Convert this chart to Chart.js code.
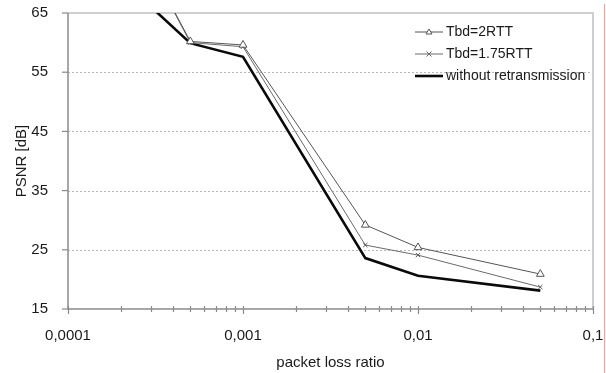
<!DOCTYPE html>
<html>
<head>
<meta charset="utf-8">
<script src="https://cdn.jsdelivr.net/npm/chart.js@4/dist/chart.umd.min.js"></script>
<style>
html,body{margin:0;padding:0;background:#fff;}
#wrap{width:606px;height:373px;position:relative;}
</style>
</head>
<body>
<div id="wrap"><canvas id="c" width="606" height="373"></canvas></div>
<script>
// ---- data ----
const lossRatio = [0.0001, 0.0005, 0.001, 0.005, 0.01, 0.05];
const tbd2RTT   = [99, 60.2, 59.6, 29.2, 25.4, 20.9];
const tbd175RTT = [99, 60.0, 59.3, 25.8, 24.1, 18.7];
const withoutRetx = [79, 59.9, 57.6, 23.6, 20.6, 18.1];
const seriesNames = ['Tbd=2RTT', 'Tbd=1.75RTT', 'without retransmission'];
const xTickValues = [0.0001, 0.001, 0.01, 0.1];
const xTickLabels = ['0,0001', '0,001', '0,01', '0,1'];
const yTicks = [15, 25, 35, 45, 55, 65];
const xTitle = 'packet loss ratio';
const yTitle = 'PSNR [dB]';

const FONT = '"Liberation Sans", Arial, sans-serif';
const toPts = ys => lossRatio.map((x, i) => ({x: x, y: ys[i]}));

// minor + major tick positions (axis decoration)
const allXTicks = [];
for (let d = 0; d < xTickValues.length - 1; d++) {
  for (let m = 1; m <= 9; m++) allXTicks.push(+(xTickValues[d] * m).toPrecision(6));
}
allXTicks.push(xTickValues[xTickValues.length - 1]);

const decor = {
  id: 'decor',
  beforeDatasetsDraw(chart) {
    const {ctx, chartArea: a, scales: {x, y}} = chart;
    ctx.save();
    // dotted grid
    ctx.strokeStyle = '#b8b8b8';
    ctx.lineWidth = 1;
    ctx.setLineDash([2, 2]);
    yTicks.forEach(v => {
      if (v === yTicks[0] || v === yTicks[yTicks.length - 1]) return;
      const py = Math.round(y.getPixelForValue(v)) + 0.5;
      ctx.beginPath(); ctx.moveTo(a.left, py); ctx.lineTo(a.right, py); ctx.stroke();
    });
    ctx.setLineDash([]);
    // top & right border
    ctx.strokeStyle = '#cfcfcf';
    ctx.lineWidth = 2;
    ctx.beginPath();
    ctx.moveTo(a.left, a.top); ctx.lineTo(a.right, a.top); ctx.lineTo(a.right, a.bottom);
    ctx.stroke();
    // axes
    ctx.strokeStyle = '#8a8a8a';
    ctx.lineWidth = 1.5;
    ctx.beginPath();
    ctx.moveTo(a.left, a.top); ctx.lineTo(a.left, a.bottom); ctx.lineTo(a.right, a.bottom);
    ctx.stroke();
    // y tick marks
    ctx.lineWidth = 1.2;
    yTicks.forEach(v => {
      const py = y.getPixelForValue(v);
      ctx.beginPath(); ctx.moveTo(a.left - 6, py); ctx.lineTo(a.left, py); ctx.stroke();
    });
    // x tick marks
    allXTicks.forEach(v => {
      const px = Math.round(x.getPixelForValue(v)) + 0.5;
      const major = xTickValues.some(t => Math.abs(t - v) / t < 1e-6);
      ctx.beginPath();
      ctx.moveTo(px, a.bottom - 3);
      ctx.lineTo(px, a.bottom + (major ? 5 : 3));
      ctx.stroke();
    });
    ctx.restore();
  },
  afterDraw(chart) {
    const {ctx} = chart;
    ctx.save();
    // legend
    const rows = [32, 54, 76];
    const x0 = 415, x1 = 443;
    chart.data.datasets.forEach((ds, i) => {
      const ry = rows[i];
      ctx.strokeStyle = ds.borderColor;
      ctx.lineWidth = ds.borderWidth;
      ctx.beginPath(); ctx.moveTo(x0, ry); ctx.lineTo(x1, ry); ctx.stroke();
      const cx = (x0 + x1) / 2;
      if (ds.pointStyle === 'triangle') {
        ctx.lineWidth = 1;
        ctx.fillStyle = '#fff';
        ctx.beginPath();
        ctx.moveTo(cx, ry - 3); ctx.lineTo(cx + 3, ry + 2); ctx.lineTo(cx - 3, ry + 2); ctx.closePath();
        ctx.fill(); ctx.stroke();
      } else if (ds.pointStyle === 'crossRot') {
        ctx.lineWidth = 1;
        ctx.beginPath();
        ctx.moveTo(cx - 2.5, ry - 2.5); ctx.lineTo(cx + 2.5, ry + 2.5);
        ctx.moveTo(cx + 2.5, ry - 2.5); ctx.lineTo(cx - 2.5, ry + 2.5);
        ctx.stroke();
      }
      ctx.fillStyle = '#1a1a1a';
      ctx.font = '14px ' + FONT;
      ctx.textBaseline = 'middle';
      ctx.textAlign = 'left';
      ctx.fillText(ds.label, x1 + 3, ry);
    });
    // red page edge line
    ctx.strokeStyle = '#f3a0a0';
    ctx.lineWidth = 1;
    ctx.beginPath(); ctx.moveTo(604.5, 4); ctx.lineTo(604.5, 373); ctx.stroke();
    ctx.restore();
  }
};

new Chart(document.getElementById('c'), {
  type: 'line',
  data: {
    datasets: [
      {label: seriesNames[0], data: toPts(tbd2RTT), borderColor: '#555', borderWidth: 1,
       pointStyle: 'triangle', pointRadius: 4.5, pointBorderColor: '#555', pointBackgroundColor: '#fff', pointBorderWidth: 1},
      {label: seriesNames[1], data: toPts(tbd175RTT), borderColor: '#6a6a6a', borderWidth: 1,
       pointStyle: 'crossRot', pointRadius: 3, pointBorderColor: '#555', pointBorderWidth: 1},
      {label: seriesNames[2], data: toPts(withoutRetx), borderColor: '#0a0a0a', borderWidth: 2.6,
       pointRadius: 0}
    ]
  },
  options: {
    responsive: false,
    animation: false,
    events: [],
    layout: {padding: {top: 13, right: 13, left: 0, bottom: 0}},
    plugins: {legend: {display: false}, tooltip: {enabled: false}},
    elements: {line: {tension: 0}},
    scales: {
      x: {
        type: 'logarithmic',
        min: xTickValues[0], max: xTickValues[xTickValues.length - 1],
        afterBuildTicks: s => { s.ticks = xTickValues.map(v => ({value: v, major: true})); },
        afterFit: s => { s.height = 64; s.paddingLeft = 0; s.paddingRight = 0; },
        grid: {display: false},
        border: {display: false},
        ticks: {
          autoSkip: false, maxRotation: 0, padding: 10,
          color: '#1a1a1a', font: {family: FONT, size: 15},
          callback: (v) => { const i = xTickValues.findIndex(t => Math.abs(t - v) / t < 1e-6); return i >= 0 ? xTickLabels[i] : ''; }
        },
        title: {display: true, text: xTitle, color: '#1a1a1a', font: {family: FONT, size: 15}, padding: {top: 0, bottom: 1}}
      },
      y: {
        min: yTicks[0], max: yTicks[yTicks.length - 1],
        afterBuildTicks: s => { s.ticks = yTicks.map(v => ({value: v})); },
        afterFit: s => { s.width = 68; s.paddingTop = 0; s.paddingBottom = 0; },
        grid: {display: false},
        border: {display: false},
        ticks: {padding: 12, color: '#1a1a1a', font: {family: FONT, size: 15}},
        title: {display: true, text: yTitle, color: '#1a1a1a', font: {family: FONT, size: 15}, padding: {top: 13, bottom: 0}}
      }
    }
  },
  plugins: [decor]
});
</script>
</body>
</html>
